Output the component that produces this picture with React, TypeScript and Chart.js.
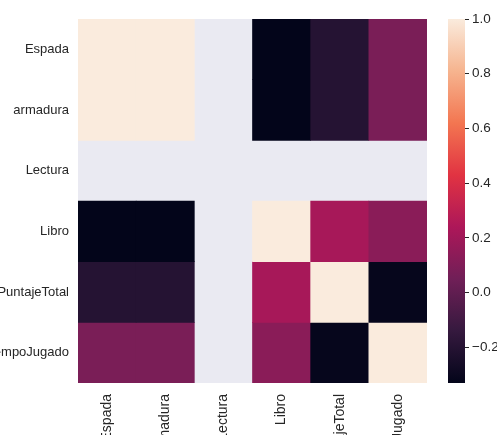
import React, { useEffect, useRef } from "react";
import { Chart, registerables } from "chart.js";

Chart.register(...registerables);

// ---- data ----
const rowLabels = ["Espada", "armadura", "Lectura", "Libro", "PuntajeTotal", "TiempoJugado"];
const colLabels = ["Espada", "armadura", "Lectura", "Libro", "PuntajeTotal", "TiempoJugado"];
const espada = [1, 1, null, -0.33, -0.2, 0.08];
const armadura = [1, 1, null, -0.33, -0.2, 0.08];
const lectura = [null, null, null, null, null, null];
const libro = [-0.33, -0.33, null, 1, 0.22, 0.13];
const puntajeTotal = [-0.2, -0.2, null, 0.22, 1, -0.32];
const tiempoJugado = [0.08, 0.08, null, 0.13, -0.32, 1];
const matrix: (number | null)[][] = [espada, armadura, lectura, libro, puntajeTotal, tiempoJugado];
const vmin = -0.33;
const vmax = 1.0;
const cbarTicks = [-0.2, 0.0, 0.2, 0.4, 0.6, 0.8, 1.0];

// rocket colormap anchors
const rocket: [number, string][] = [
  [0, "#03051a"],
  [1 / 7, "#35193e"],
  [2 / 7, "#701f57"],
  [3 / 7, "#ad1759"],
  [4 / 7, "#e13342"],
  [5 / 7, "#f37651"],
  [6 / 7, "#f6b48f"],
  [1, "#faebdd"],
];

const hexToRgb = (h: string) => [
  parseInt(h.slice(1, 3), 16),
  parseInt(h.slice(3, 5), 16),
  parseInt(h.slice(5, 7), 16),
];

function colorFor(v: number | null): string {
  if (v === null || v === undefined) return "rgba(0,0,0,0)";
  let t = (v - vmin) / (vmax - vmin);
  t = Math.max(0, Math.min(1, t));
  for (let i = 0; i < rocket.length - 1; i++) {
    const [t0, c0] = rocket[i];
    const [t1, c1] = rocket[i + 1];
    if (t >= t0 && t <= t1) {
      const f = (t - t0) / (t1 - t0);
      const a = hexToRgb(c0);
      const b = hexToRgb(c1);
      const r = a.map((x, k) => Math.round(x + (b[k] - x) * f));
      return `rgb(${r[0]},${r[1]},${r[2]})`;
    }
  }
  return rocket[rocket.length - 1][1];
}

const FONT = "'Liberation Sans', Arial, sans-serif";
const TEXT = "#262626";

const fmt = (v: number) => {
  const s = Math.abs(v).toFixed(1);
  return v < -1e-9 ? "\u2212" + s : s;
};

const bgPlugin = {
  id: "areaBg",
  beforeDraw(chart: any) {
    const { ctx, chartArea } = chart;
    if (!chartArea) return;
    ctx.save();
    ctx.fillStyle = "#EAEAF2";
    ctx.fillRect(chartArea.left, chartArea.top, chartArea.right - chartArea.left, chartArea.bottom - chartArea.top);
    ctx.restore();
  },
};

export default function App() {
  const mainRef = useRef<HTMLCanvasElement>(null);
  const cbarRef = useRef<HTMLCanvasElement>(null);

  useEffect(() => {
    document.body.style.margin = "0";
    document.body.style.background = "#ffffff";

    const main = new Chart(mainRef.current!, {
      type: "bar",
      data: {
        labels: colLabels,
        datasets: matrix.map((row, i) => ({
          label: rowLabels[i],
          data: colLabels.map(() => 1),
          backgroundColor: row.map(colorFor),
          borderWidth: 0,
          barPercentage: 1,
          categoryPercentage: 1,
          stack: "s",
        })),
      },
      options: {
        animation: false,
        responsive: false,
        layout: { padding: { top: 19, left: 0, right: 0, bottom: 0 } },
        plugins: { legend: { display: false }, tooltip: { enabled: false } },
        scales: {
          x: {
            type: "category",
            stacked: true,
            grid: { display: false, drawTicks: false },
            border: { display: false },
            ticks: {
              autoSkip: false,
              minRotation: 90,
              maxRotation: 90,
              padding: 11,
              color: TEXT,
              font: { family: FONT, size: 14 },
            },
            afterFit: (s: any) => {
              s.height = 52;
            },
          },
          y: {
            type: "linear",
            stacked: true,
            min: 0,
            max: 6,
            reverse: true,
            grid: { display: false, drawTicks: false },
            border: { display: false },
            afterBuildTicks: (s: any) => {
              s.ticks = rowLabels.map((_, i) => ({ value: i + 0.5 }));
            },
            ticks: {
              autoSkip: false,
              padding: 9,
              color: TEXT,
              font: { family: FONT, size: 13 },
              callback: (v: any) => rowLabels[Math.floor(Number(v))],
            },
            afterFit: (s: any) => {
              s.width = 78;
            },
          },
        },
      } as any,
      plugins: [bgPlugin],
    });

    const cbar = new Chart(cbarRef.current!, {
      type: "bar",
      data: {
        labels: [""],
        datasets: [
          {
            data: [[vmin, vmax]] as any,
            backgroundColor: (ctx: any) => {
              const area = ctx.chart.chartArea;
              if (!area) return "transparent";
              const g = ctx.chart.ctx.createLinearGradient(0, area.bottom, 0, area.top);
              rocket.forEach(([t, c]) => g.addColorStop(t, c));
              return g;
            },
            borderWidth: 0,
            barPercentage: 1,
            categoryPercentage: 1,
          },
        ],
      },
      options: {
        animation: false,
        responsive: false,
        layout: { padding: { top: 19, bottom: 52, left: 8, right: 0 } },
        plugins: { legend: { display: false }, tooltip: { enabled: false } },
        scales: {
          x: { display: false },
          y: {
            position: "right",
            min: vmin,
            max: vmax,
            afterBuildTicks: (s: any) => {
              s.ticks = cbarTicks.map((v) => ({ value: v }));
            },
            grid: { drawOnChartArea: false, drawTicks: true, tickLength: 4, tickColor: TEXT, tickWidth: 1 },
            border: { display: false },
            ticks: {
              autoSkip: false,
              padding: 3,
              color: TEXT,
              font: { family: FONT, size: 13.5 },
              callback: (v: any) => fmt(Number(v)),
            },
            afterFit: (s: any) => {
              s.width = 32;
            },
          },
        },
      } as any,
    });

    return () => {
      main.destroy();
      cbar.destroy();
    };
  }, []);

  return (
    <div style={{ position: "fixed", left: 0, top: 0, width: 497, height: 435, background: "#fff", overflow: "hidden" }}>
      <canvas ref={mainRef} width={427} height={435} style={{ position: "absolute", left: 0, top: 0 }} />
      <canvas ref={cbarRef} width={57} height={435} style={{ position: "absolute", left: 440, top: 0 }} />
    </div>
  );
}
